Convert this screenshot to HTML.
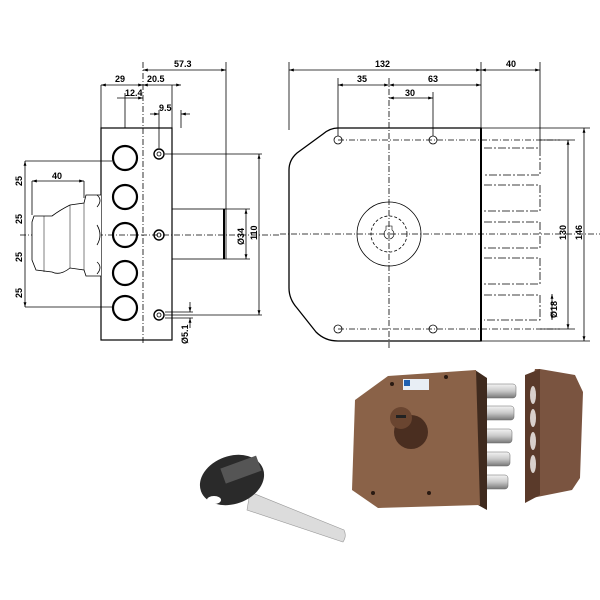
<!DOCTYPE html>
<html><head><meta charset="utf-8"><style>
html,body{margin:0;padding:0;background:#fff;width:600px;height:600px;overflow:hidden}
svg{display:block}
text{font-family:"Liberation Sans",sans-serif;font-size:9px;fill:#000;font-weight:bold}
</style></head><body>
<svg width="600" height="600" viewBox="0 0 600 600" xmlns="http://www.w3.org/2000/svg">
<defs>
<marker id="a" viewBox="0 0 10 10" refX="10" refY="5" markerWidth="6" markerHeight="6" orient="auto-start-reverse"><path d="M0,2 L10,5 L0,8z" fill="#000"/></marker>
<linearGradient id="bolt" x1="0" y1="0" x2="0" y2="1"><stop offset="0" stop-color="#f4f4f4"/><stop offset=".5" stop-color="#c8c8c8"/><stop offset="1" stop-color="#777"/></linearGradient>
</defs>
<g stroke="#000" fill="none" stroke-width="0.8">
<!-- LEFT VIEW -->
<rect x="101" y="128" width="71" height="212" stroke-width="1.2"/>
<line x1="143" y1="62" x2="143" y2="345" stroke-dasharray="6,2,1,2"/>
<g stroke-width="2.2">
<circle cx="125" cy="158" r="12"/><circle cx="125" cy="197" r="12"/><circle cx="125" cy="235" r="12"/><circle cx="125" cy="273" r="12"/><circle cx="125" cy="308" r="12"/>
</g>
<g><circle cx="159" cy="154" r="5" stroke-width="1.4"/><circle cx="159" cy="154" r="2"/>
<circle cx="159" cy="235" r="5" stroke-width="1.4"/><circle cx="159" cy="235" r="2"/>
<circle cx="159" cy="315" r="5" stroke-width="1.4"/><circle cx="159" cy="315" r="2"/></g>
<rect x="172" y="209" width="54" height="50"/>
<line x1="224" y1="209" x2="224" y2="259" stroke-width="2"/>
<line x1="20" y1="235" x2="280" y2="235" stroke-dasharray="6,2,1,2"/>
<!-- knob -->
<path d="M101,195 L86,195 L84,203 L70,205 Q60,210 52,216 L34,216 L32,222 L32,260 L36,270 L52,272 Q60,276 70,268 L84,270 L86,276 L101,276" fill="#fff"/>
<path d="M84,203 L84,270 M70,205 L70,268 M44,216 L44,272" stroke-width="0.5"/>
<path d="M97,195 q6,5 0,12 M97,225 q6,10 0,20 M97,262 q6,5 0,12"/>
<!-- dims left -->
<line x1="101" y1="85" x2="101" y2="128"/><line x1="172" y1="85" x2="172" y2="128"/>
<line x1="226" y1="62" x2="226" y2="209"/><line x1="125" y1="93" x2="125" y2="128"/>
<line x1="159" y1="110" x2="159" y2="148"/><line x1="181" y1="110" x2="181" y2="128"/>
<line x1="143" y1="70" x2="226" y2="70" marker-start="url(#a)" marker-end="url(#a)"/>
<line x1="101" y1="85" x2="143" y2="85" marker-start="url(#a)" marker-end="url(#a)"/>
<line x1="143" y1="85" x2="181" y2="85" marker-start="url(#a)" marker-end="url(#a)"/>
<line x1="117" y1="98" x2="143" y2="98" marker-end="url(#a)"/>
<line x1="150" y1="114" x2="159" y2="114" marker-end="url(#a)"/><line x1="190" y1="114" x2="181" y2="114" marker-end="url(#a)"/>
<line x1="165" y1="154" x2="262" y2="154"/><line x1="165" y1="315" x2="262" y2="315"/>
<line x1="259" y1="154" x2="259" y2="315" marker-start="url(#a)" marker-end="url(#a)"/>
<line x1="226" y1="209" x2="250" y2="209"/><line x1="226" y1="259" x2="250" y2="259"/>
<line x1="246" y1="209" x2="246" y2="259" marker-start="url(#a)" marker-end="url(#a)"/>
<line x1="165" y1="312" x2="193" y2="312"/><line x1="165" y1="318" x2="193" y2="318"/>
<line x1="190" y1="302" x2="190" y2="312" marker-end="url(#a)"/><line x1="190" y1="328" x2="190" y2="318" marker-end="url(#a)"/>
<line x1="25" y1="161" x2="112" y2="161"/><line x1="25" y1="307" x2="112" y2="307"/>
<line x1="25" y1="161" x2="25" y2="307" marker-start="url(#a)" marker-end="url(#a)"/>
<line x1="32" y1="181" x2="84" y2="181" marker-start="url(#a)" marker-end="url(#a)"/>
<line x1="32" y1="181" x2="32" y2="215"/><line x1="84" y1="181" x2="84" y2="198"/>
<!-- RIGHT VIEW -->
<path d="M338,128 L481,128 L481,341 L338,341 Q325,341 316,332 L297,308 Q289,299 289,288 L289,170 Q289,160 297,153 L323,134 Q330,128 338,128Z" stroke-width="1.3"/>
<line x1="481" y1="128" x2="481" y2="341" stroke-width="2"/>
<line x1="389" y1="78" x2="389" y2="350" stroke-dasharray="6,2,1,2"/>
<line x1="280" y1="234" x2="600" y2="234" stroke-dasharray="6,2,1,2"/>
<line x1="338" y1="140" x2="560" y2="140" stroke-dasharray="6,2,1,2"/>
<line x1="338" y1="329" x2="560" y2="329" stroke-dasharray="6,2,1,2"/>
<circle cx="338" cy="140" r="4"/><circle cx="433" cy="140" r="4"/><circle cx="338" cy="329" r="4"/><circle cx="433" cy="329" r="4"/>
<circle cx="389" cy="234" r="32"/><circle cx="389" cy="234" r="18" stroke-dasharray="3,2"/>
<path d="M386,226 h6 v4 a5,5 0 1 1 -6,0z" stroke-width="0.6"/>
<g stroke-dasharray="8,2,2,2">
<path d="M484,148 H540 V175 H484 M484,185 H540 V211 H484 M484,222 H540 V248 H484 M484,258 H540 V284 H484 M484,295 H540 V320 H484"/>
</g>
<line x1="481" y1="128" x2="590" y2="128"/><line x1="481" y1="341" x2="590" y2="341"/>
<line x1="540" y1="140" x2="575" y2="140"/><line x1="540" y1="329" x2="575" y2="329"/>
<line x1="568" y1="140" x2="568" y2="329" marker-start="url(#a)" marker-end="url(#a)"/>
<line x1="584" y1="128" x2="584" y2="341" marker-start="url(#a)" marker-end="url(#a)"/>
<line x1="552" y1="294" x2="552" y2="320" marker-start="url(#a)" marker-end="url(#a)"/>
<line x1="289" y1="62" x2="289" y2="130"/><line x1="481" y1="62" x2="481" y2="128"/>
<line x1="540" y1="62" x2="540" y2="148"/><line x1="338" y1="78" x2="338" y2="136"/><line x1="433" y1="92" x2="433" y2="136"/>
<line x1="289" y1="70" x2="481" y2="70" marker-start="url(#a)" marker-end="url(#a)"/>
<line x1="481" y1="70" x2="540" y2="70" marker-start="url(#a)" marker-end="url(#a)"/>
<line x1="338" y1="85" x2="389" y2="85" marker-start="url(#a)" marker-end="url(#a)"/>
<line x1="389" y1="85" x2="481" y2="85" marker-start="url(#a)" marker-end="url(#a)"/>
<line x1="389" y1="98" x2="433" y2="98" marker-start="url(#a)" marker-end="url(#a)"/>
</g>
<!-- labels -->
<text x="174" y="67">57.3</text><text x="115" y="82">29</text><text x="147" y="82">20.5</text>
<text x="125" y="96">12.4</text><text x="159" y="111">9.5</text><text x="52" y="179">40</text>
<text x="375" y="67">132</text><text x="506" y="67">40</text><text x="357" y="82">35</text><text x="428" y="82">63</text><text x="405" y="96">30</text>
<g>
<text transform="translate(22,186) rotate(-90)">25</text><text transform="translate(22,224) rotate(-90)">25</text>
<text transform="translate(22,262) rotate(-90)">25</text><text transform="translate(22,298) rotate(-90)">25</text>
<text transform="translate(244,245) rotate(-90)">Ø34</text><text transform="translate(257,240) rotate(-90)">110</text>
<text transform="translate(188,344) rotate(-90)">Ø5.1</text>
<text transform="translate(566,240) rotate(-90)">130</text><text transform="translate(582,240) rotate(-90)">146</text>
<text transform="translate(557,318) rotate(-90)">Ø18</text>
</g>
<!-- PHOTOS -->
<!-- key -->
<path d="M250,492 L344,530 Q347,536 343,542 L247,510Z" fill="#dcdcdc" stroke="#999" stroke-width="0.6"/>
<ellipse cx="232" cy="480" rx="33" ry="24" transform="rotate(-20 232 480)" fill="#2a2a2a"/>
<rect x="222" y="462" width="38" height="16" transform="rotate(-20 240 470)" fill="#555"/>
<ellipse cx="214" cy="500" rx="7" ry="4" fill="#fff"/>
<!-- bolts -->
<g fill="url(#bolt)" stroke="#666" stroke-width="0.5">
<rect x="468" y="384" width="48" height="14" rx="3"/><rect x="466" y="406" width="48" height="14" rx="3"/>
<rect x="465" y="429" width="47" height="14" rx="3"/><rect x="463" y="452" width="47" height="14" rx="3"/>
<rect x="462" y="475" width="46" height="14" rx="3"/>
</g>
<!-- lock body -->
<polygon points="475,370 487,378 487,510 478,505" fill="#3f2a1e"/>
<polygon points="388,376 476,370 480,505 378,508 352,490 355,400" fill="#8a6248"/>
<rect x="403" y="379" width="26" height="11" fill="#e8eef5"/><rect x="404" y="380" width="6" height="6" fill="#2060b0"/>
<g fill="#2a1a12"><circle cx="392" cy="384" r="2"/><circle cx="446" cy="377" r="2"/><circle cx="373" cy="493" r="2"/><circle cx="429" cy="493" r="2"/></g>
<circle cx="411" cy="432" r="17" fill="#4a2e20"/>
<circle cx="401" cy="418" r="11" fill="#6a4530"/><rect x="396" y="415" width="10" height="3" fill="#222"/>
<!-- strike -->
<polygon points="535,369 540,369 575,375 583,392 580,478 572,490 532,498 525,500 527,400" fill="#7a5440"/>
<polygon points="525,375 540,369 540,495 525,503" fill="#5a3a2a"/>
<g fill="#d8d0cc"><ellipse cx="533" cy="395" rx="3" ry="9"/><ellipse cx="533" cy="418" rx="3" ry="9"/><ellipse cx="533" cy="441" rx="3" ry="9"/><ellipse cx="533" cy="464" rx="3" ry="9"/></g>
</svg>
</body></html>
